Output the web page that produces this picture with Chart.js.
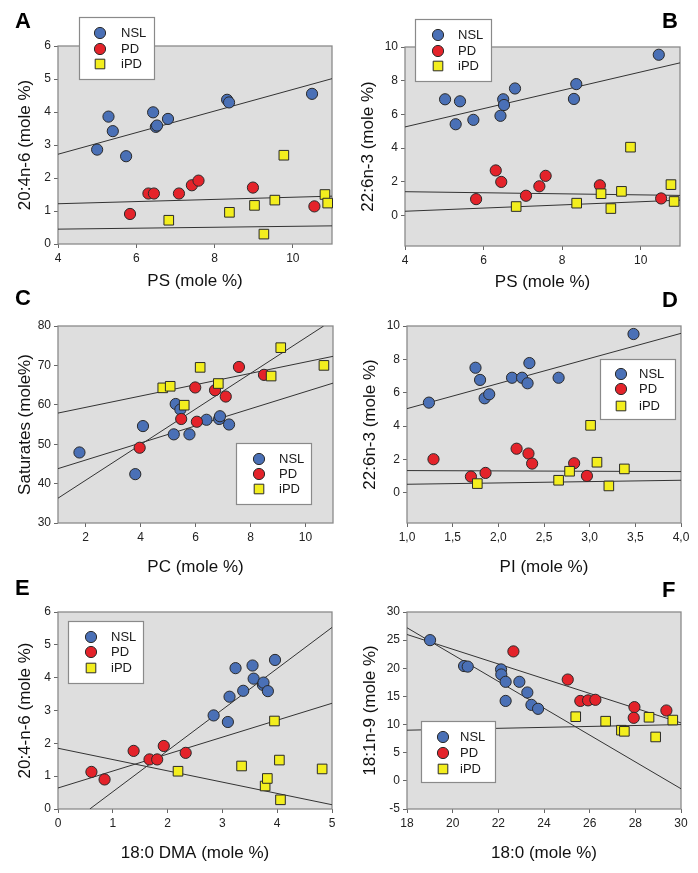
<!DOCTYPE html>
<html><head><meta charset="utf-8">
<script src="https://cdn.jsdelivr.net/npm/chart.js@4.4.1/dist/chart.umd.min.js"></script>
<style>
html,body{margin:0;padding:0;background:#fff;}
body{width:698px;height:873px;position:relative;overflow:hidden;}
canvas{position:absolute;left:0;top:0;}
</style></head>
<body>
<canvas id="cA"></canvas><canvas id="cB"></canvas><canvas id="cC"></canvas>
<canvas id="cD"></canvas><canvas id="cE"></canvas><canvas id="cF"></canvas>
<script>
// ===== DATA =====
const groupNames = ['NSL', 'PD', 'iPD'];

// Panel A: 20:4n-6 vs PS
const A_NSL = [[5.00,2.86],[5.29,3.86],[5.40,3.42],[5.74,2.66],[6.43,3.99],[6.50,3.55],[6.53,3.59],[6.81,3.79],[8.32,4.37],[8.37,4.29],[10.49,4.55]];
const A_PD  = [[5.84,0.91],[6.31,1.53],[6.45,1.53],[7.09,1.53],[7.42,1.78],[7.59,1.92],[8.98,1.71],[10.55,1.14]];
const A_iPD = [[6.83,0.72],[8.38,0.96],[9.02,1.17],[9.26,0.30],[9.54,1.33],[9.77,2.69],[10.82,1.50],[10.89,1.24]];
const A_fits = [[[4,2.72],[11,5.01]],[[4,1.22],[11,1.45]],[[4,0.45],[11,0.55]]];
const A_xTicks = [4,6,8,10];
const A_yTicks = [0,1,2,3,4,5,6];

// Panel B: 22:6n-3 vs PS
const B_NSL = [[5.02,6.90],[5.29,5.42],[5.40,6.78],[5.74,5.68],[6.43,5.92],[6.50,6.90],[6.52,6.56],[6.80,7.54],[8.30,6.92],[8.36,7.80],[10.46,9.54]];
const B_PD  = [[5.81,0.98],[6.31,2.68],[6.45,2.00],[7.08,1.18],[7.42,1.74],[7.58,2.36],[8.96,1.80],[10.52,1.02]];
const B_iPD = [[6.83,0.54],[8.37,0.74],[8.99,1.30],[9.24,0.42],[9.51,1.44],[9.74,4.06],[10.77,1.84],[10.85,0.84]];
const B_fits = [[[4,5.26],[11,9.06]],[[4,1.42],[11,1.20]],[[4,0.26],[11,0.92]]];
const B_xTicks = [4,6,8,10];
const B_yTicks = [0,2,4,6,8,10];

// Panel C: Saturates vs PC
const C_NSL = [[1.78,47.9],[3.81,42.4],[4.09,54.6],[5.21,52.5],[5.28,60.2],[5.45,58.8],[5.78,52.5],[6.40,56.2],[6.86,56.4],[6.89,57.1],[7.22,55.0]];
const C_PD  = [[3.97,49.1],[5.48,56.4],[5.99,64.4],[6.05,55.7],[6.71,63.7],[7.10,62.1],[7.58,69.6],[8.49,67.6]];
const C_iPD = [[4.81,64.3],[5.08,64.7],[5.59,59.9],[6.17,69.5],[6.83,65.4],[8.75,67.3],[9.10,74.5],[10.67,70.0]];
const C_fits = [[[1,57.9],[11,72.3]],[[1,43.8],[11,65.5]],[[1,36.3],[10.66,80]]];
const C_xTicks = [2,4,6,8,10];
const C_yTicks = [30,40,50,60,70,80];

// Panel D: 22:6n-3 vs PI
const D_NSL = [[1.24,5.41],[1.75,7.50],[1.80,6.77],[1.85,5.67],[1.90,5.91],[2.15,6.90],[2.26,6.90],[2.32,6.57],[2.34,7.78],[2.66,6.90],[3.48,9.52]];
const D_PD  = [[1.29,2.02],[1.70,0.98],[1.86,1.20],[2.20,2.65],[2.33,2.36],[2.37,1.76],[2.83,1.78],[2.97,1.02]];
const D_iPD = [[1.77,0.56],[2.66,0.76],[2.78,1.30],[3.01,4.05],[3.08,1.84],[3.21,0.42],[3.38,1.44]];
const D_fits = [[[1,5.05],[4,9.56]],[[1,1.34],[4,1.28]],[[1,0.52],[4,0.76]]];
const D_xTicks = [1.0,1.5,2.0,2.5,3.0,3.5,4.0];
const D_yTicks = [0,2,4,6,8,10];

// Panel E: 20:4-n-6 vs 18:0 DMA
const E_NSL = [[2.84,2.85],[3.10,2.65],[3.13,3.42],[3.24,4.29],[3.38,3.60],[3.55,4.37],[3.57,3.97],[3.74,3.78],[3.75,3.85],[3.83,3.59],[3.96,4.54]];
const E_PD  = [[0.61,1.13],[0.85,0.90],[1.38,1.77],[1.67,1.51],[1.81,1.51],[1.93,1.92],[2.33,1.71]];
const E_iPD = [[2.19,1.15],[3.35,1.31],[3.78,0.70],[3.82,0.93],[3.95,2.68],[4.04,1.49],[4.06,0.28],[4.82,1.22]];
const E_fits = [[[0.58,0],[5,5.53]],[[0,0.64],[5,3.22]],[[0,1.85],[5,0.13]]];
const E_xTicks = [0,1,2,3,4,5];
const E_yTicks = [0,1,2,3,4,5,6];

// Panel F: 18:1n-9 vs 18:0
const F_NSL = [[19.01,25.0],[20.50,20.4],[20.66,20.3],[22.12,19.8],[22.13,18.9],[22.32,17.6],[22.32,14.2],[22.92,17.6],[23.27,15.7],[23.45,13.5],[23.74,12.8]];
const F_PD  = [[22.66,23.0],[25.04,18.0],[25.59,14.2],[25.93,14.3],[26.25,14.4],[27.96,13.1],[27.93,11.2],[29.36,12.5]];
const F_iPD = [[25.39,11.4],[26.70,10.6],[27.39,9.0],[27.52,8.8],[28.60,11.3],[28.89,7.8],[29.64,10.8]];
const F_fits = [[[18,27.2],[30,-1.4]],[[18,26.0],[30,10.3]],[[18,9.0],[30,10.0]]];
const F_xTicks = [18,20,22,24,26,28,30];
const F_yTicks = [-5,0,5,10,15,20,25,30];

// ===== STYLE / LAYOUT =====
const W = 698, H = 873;
const FONT = '"Liberation Sans", Arial, Helvetica, sans-serif';
const COLORS = {NSL:'#4a70b6', PD:'#e4232a', iPD:'#f3ee1e'};
const TITLE_SIZE = 17;

const panels = [
  {id:'cA', letter:'A', groups:[A_NSL,A_PD,A_iPD], fits:A_fits,
   x:{min:4,max:11,ticks:A_xTicks,title:'PS (mole %)'},
   y:{min:0,max:6,ticks:A_yTicks,title:'20:4n-6 (mole %)'},
   plot:{l:58,t:46,r:332,b:244}, yTitleX:25, xTitleY:281,
   legend:{l:79,t:17,r:155,b:80,mx:100,tx:121,rows:[33,49,64]}, lp:{x:15,y:28}},
  {id:'cB', letter:'B', groups:[B_NSL,B_PD,B_iPD], fits:B_fits,
   x:{min:4,max:11,ticks:B_xTicks,title:'PS (mole %)'},
   y:{min:-1.8,max:10,ticks:B_yTicks,title:'22:6n-3 (mole %)'},
   plot:{l:405,t:47,r:680,b:246}, yTitleX:368, xTitleY:282,
   legend:{l:415,t:19,r:492,b:82,mx:438,tx:458,rows:[35,51,66]}, lp:{x:662,y:28}},
  {id:'cC', letter:'C', groups:[C_NSL,C_PD,C_iPD], fits:C_fits,
   x:{min:1,max:11,ticks:C_xTicks,title:'PC (mole %)'},
   y:{min:30,max:80,ticks:C_yTicks,title:'Saturates (mole%)'},
   plot:{l:58,t:326,r:333,b:523}, yTitleX:25, xTitleY:567,
   legend:{l:236,t:443,r:312,b:505,mx:259,tx:279,rows:[459,474,489]}, lp:{x:15,y:305}},
  {id:'cD', letter:'D', groups:[D_NSL,D_PD,D_iPD], fits:D_fits,
   x:{min:1,max:4,ticks:D_xTicks,title:'PI (mole %)', comma:true},
   y:{min:-1.8,max:10,ticks:D_yTicks,title:'22:6n-3 (mole %)'},
   plot:{l:407,t:326,r:681,b:523}, yTitleX:370, xTitleY:567,
   legend:{l:600,t:359,r:676,b:420,mx:621,tx:639,rows:[374,389,406]}, lp:{x:662,y:307}},
  {id:'cE', letter:'E', groups:[E_NSL,E_PD,E_iPD], fits:E_fits,
   x:{min:0,max:5,ticks:E_xTicks,title:'18:0 DMA (mole %)'},
   y:{min:0,max:6,ticks:E_yTicks,title:'20:4-n-6 (mole %)'},
   plot:{l:58,t:612,r:332,b:809}, yTitleX:25, xTitleY:853,
   legend:{l:68,t:621,r:144,b:684,mx:91,tx:111,rows:[637,652,668]}, lp:{x:15,y:595}},
  {id:'cF', letter:'F', groups:[F_NSL,F_PD,F_iPD], fits:F_fits,
   x:{min:18,max:30,ticks:F_xTicks,title:'18:0 (mole %)'},
   y:{min:-5,max:30,ticks:F_yTicks,title:'18:1n-9 (mole %)'},
   plot:{l:407,t:612,r:681,b:809}, yTitleX:370, xTitleY:853,
   legend:{l:421,t:721,r:496,b:783,mx:443,tx:460,rows:[737,753,769]}, lp:{x:662,y:597}}
];

function drawMarker(ctx, name, x, y) {
  ctx.save();
  ctx.fillStyle = COLORS[name];
  ctx.strokeStyle = '#2a2a2a';
  ctx.lineWidth = 1;
  ctx.beginPath();
  if (name === 'iPD') {
    ctx.rect(x - 4.8, y - 4.8, 9.6, 9.6);
  } else {
    ctx.arc(x, y, 5.6, 0, Math.PI * 2);
  }
  ctx.fill(); ctx.stroke();
  ctx.restore();
}

function makeDecor(p) {
  return {
    id: 'decor' + p.letter,
    beforeDraw(chart) {
      const a = chart.chartArea, ctx = chart.ctx;
      ctx.save();
      ctx.fillStyle = '#dedede';
      ctx.fillRect(a.left, a.top, a.right - a.left, a.bottom - a.top);
      ctx.restore();
    },
    beforeDatasetsDraw(chart) {
      const a = chart.chartArea, ctx = chart.ctx;
      ctx.save();
      ctx.strokeStyle = '#8a8a8a';
      ctx.lineWidth = 1.3;
      ctx.strokeRect(a.left, a.top, a.right - a.left, a.bottom - a.top);
      ctx.restore();
    },
    afterDraw(chart) {
      const ctx = chart.ctx, L = p.legend;
      ctx.save();
      ctx.fillStyle = '#fff';
      ctx.fillRect(L.l, L.t, L.r - L.l, L.b - L.t);
      ctx.strokeStyle = '#8a8a8a';
      ctx.lineWidth = 1.2;
      ctx.strokeRect(L.l + 0.5, L.t + 0.5, L.r - L.l - 1, L.b - L.t - 1);
      ctx.font = '13px ' + FONT;
      ctx.textBaseline = 'middle';
      ctx.textAlign = 'left';
      groupNames.forEach((g, i) => {
        drawMarker(ctx, g, L.mx, L.rows[i]);
        ctx.fillStyle = '#1a1a1a';
        ctx.fillText(g, L.tx, L.rows[i] + 0.5);
      });
      ctx.font = 'bold 22px ' + FONT;
      ctx.textBaseline = 'alphabetic';
      ctx.fillStyle = '#000';
      ctx.fillText(p.letter, p.lp.x, p.lp.y);
      ctx.restore();
    }
  };
}

function toPts(arr) { return arr.map(d => ({x: d[0], y: d[1]})); }

panels.forEach(p => {
  const cv = document.getElementById(p.id);
  cv.width = W; cv.height = H;
  cv.style.width = W + 'px'; cv.style.height = H + 'px';
  const lh = TITLE_SIZE * 1.2;
  const padLeft = p.yTitleX - lh / 2;
  const yW = p.plot.l - padLeft;
  const scaleBottom = p.xTitleY + lh / 2;
  const xH = scaleBottom - p.plot.b;
  const padBottom = H - scaleBottom;

  const datasets = [];
  p.fits.forEach(f => {
    datasets.push({data: toPts(f), showLine: true, borderColor: '#333', borderWidth: 1,
      pointRadius: 0, fill: false, clip: 0, order: 10});
  });
  groupNames.forEach((g, i) => {
    datasets.push({
      label: g, data: toPts(p.groups[i]),
      pointStyle: g === 'iPD' ? 'rect' : 'circle',
      pointRadius: g === 'iPD' ? 6.8 : 5.6,
      backgroundColor: COLORS[g], borderColor: '#2a2a2a', pointBorderWidth: 1, borderWidth: 1,
      clip: false, order: 3 - i
    });
  });

  const tickFmt = (ax) => (v) => ax.comma ? v.toFixed(1).replace('.', ',') : String(v);
  const mkScale = (ax, isX) => ({
    type: 'linear', min: ax.min, max: ax.max,
    afterBuildTicks: s => { s.ticks = ax.ticks.map(v => ({value: v})); },
    afterFit: s => { if (isX) s.height = xH; else s.width = yW; },
    ticks: {font: {size: 12, family: FONT}, color: '#222', padding: 3,
            callback: tickFmt(ax), autoSkip: false, maxRotation: 0},
    grid: {display: true, drawOnChartArea: false, drawTicks: true, tickLength: 4, color: '#666', lineWidth: 1},
    border: {display: false},
    title: {display: true, text: ax.title, color: '#111',
            font: {size: TITLE_SIZE, family: FONT}, padding: {top: 0, bottom: 0}}
  });

  new Chart(cv, {
    type: 'scatter',
    data: {datasets},
    options: {
      responsive: false, animation: false, events: [],
      layout: {padding: {left: padLeft, top: p.plot.t, right: W - p.plot.r, bottom: padBottom}},
      plugins: {legend: {display: false}, tooltip: {enabled: false}, title: {display: false}},
      scales: {x: mkScale(p.x, true), y: mkScale(p.y, false)}
    },
    plugins: [makeDecor(p)]
  });
});
</script>
</body></html>
